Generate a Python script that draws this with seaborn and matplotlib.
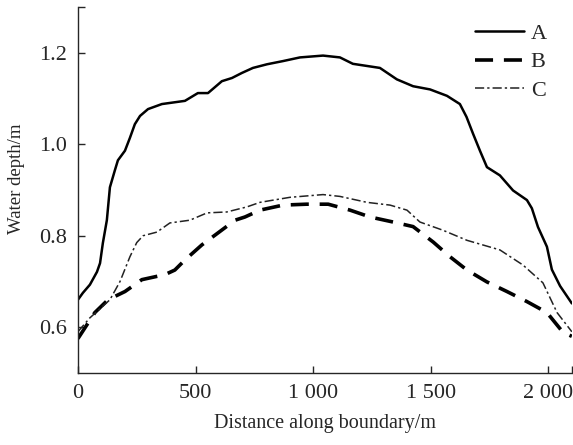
import numpy as np
import pandas as pd
import matplotlib
matplotlib.use('Agg')
import matplotlib.pyplot as plt
import seaborn as sns

# valores
dist_a = [0, 21, 51, 81, 94, 106, 123, 136, 157, 170, 200, 221, 242, 264, 298, 357, 455, 510, 553,
          612, 655, 697, 744, 804, 872, 944, 1042, 1114, 1169, 1284, 1356, 1425, 1497, 1569, 1624,
          1652, 1680, 1710, 1739, 1794, 1850, 1909, 1930, 1956, 1994, 2015, 2050, 2100]
prof_a = [0.66, 0.675, 0.693, 0.721, 0.74, 0.784, 0.834, 0.906, 0.943, 0.965, 0.986, 1.014, 1.044,
          1.062, 1.077, 1.088, 1.095, 1.112, 1.112, 1.138, 1.145, 1.156, 1.167, 1.175, 1.182, 1.19,
          1.194, 1.19, 1.176, 1.167, 1.142, 1.127, 1.12, 1.106, 1.088, 1.06, 1.023, 0.985, 0.95, 0.932,
          0.899, 0.878, 0.86, 0.819, 0.776, 0.726, 0.69, 0.652]

dist_b = [0, 72, 128, 200, 272, 370, 412, 455, 527, 595, 668, 710, 774, 872, 972, 1064, 1157, 1242,
          1340, 1425, 1511, 1582, 1654, 1739, 1824, 1909, 1994, 2062, 2100]
prof_b = [0.575, 0.632, 0.66, 0.678, 0.704, 0.715, 0.725, 0.747, 0.78, 0.806, 0.834, 0.841, 0.856,
          0.867, 0.869, 0.869, 0.856, 0.841, 0.83, 0.82, 0.786, 0.754, 0.725, 0.699, 0.678, 0.656, 0.632,
          0.589, 0.58]

dist_c = [0, 50, 136, 179, 221, 250, 277, 336, 391, 476, 549, 633, 718, 774, 901, 1042, 1114, 1229,
          1327, 1399, 1454, 1552, 1654, 1794, 1892, 1977, 2037, 2100]
prof_c = [0.59, 0.62, 0.66, 0.70, 0.754, 0.785, 0.80, 0.808, 0.828, 0.834, 0.85, 0.852, 0.863, 0.873,
          0.884, 0.89, 0.886, 0.873, 0.867, 0.856, 0.83, 0.812, 0.79, 0.769, 0.736, 0.697, 0.632, 0.59]

sns.set_style('ticks')
plt.rcParams['font.family'] = ['Liberation Serif', 'DejaVu Serif']
plt.rcParams['font.size'] = 14

fig = plt.figure(figsize=(5.73, 4.45), dpi=100)
ax = fig.add_axes([0.136, 0.162, 0.862, 0.822])

sns.lineplot(x=dist_a, y=prof_a, ax=ax, color='black', lw=1.8, label='A')
sns.lineplot(x=dist_b, y=prof_b, ax=ax, color='black', lw=2.6, label='B')
sns.lineplot(x=dist_c, y=prof_c, ax=ax, color='#222222', lw=1.1, label='C')
ax.lines[1].set_dashes([5, 3])
ax.lines[2].set_dashes([6, 2, 1.5, 2])
for ln in ax.lines:
    ln.set_solid_joinstyle('round')
    ln.set_dash_joinstyle('round')

ax.set_xlim(0, 2100)
ax.set_ylim(0.5, 1.3)
ax.set_xticks([0, 500, 1000, 1500, 2000])
ax.set_xticklabels(['0', '500', '1 000', '1 500', '2 000'])
ax.set_xticks([2100], minor=True)
ax.set_yticks([0.6, 0.8, 1.0, 1.2])
ax.set_yticklabels(['0.6', '0.8', '1.0', '1.2'])
ax.set_yticks([1.3], minor=True)
ax.tick_params(direction='in', length=5, width=1, labelsize=16, pad=8)
ax.tick_params(which='minor', direction='in', length=5, width=1)
for s in ['left', 'bottom']:
    ax.spines[s].set_linewidth(1.0)
sns.despine(ax=ax)

ax.set_xlabel('Distance along boundary/m', fontsize=14.5, labelpad=8)
ax.set_ylabel('Water depth/m', fontsize=13.5)
ax.yaxis.set_label_coords(-0.107, 0.532)

leg = ax.legend(loc='upper right', frameon=False, fontsize=16, handlelength=2.2,
                handletextpad=0.3, labelspacing=0.35, bbox_to_anchor=(0.99, 1.01))

fig.savefig('out.png', dpi=100)
